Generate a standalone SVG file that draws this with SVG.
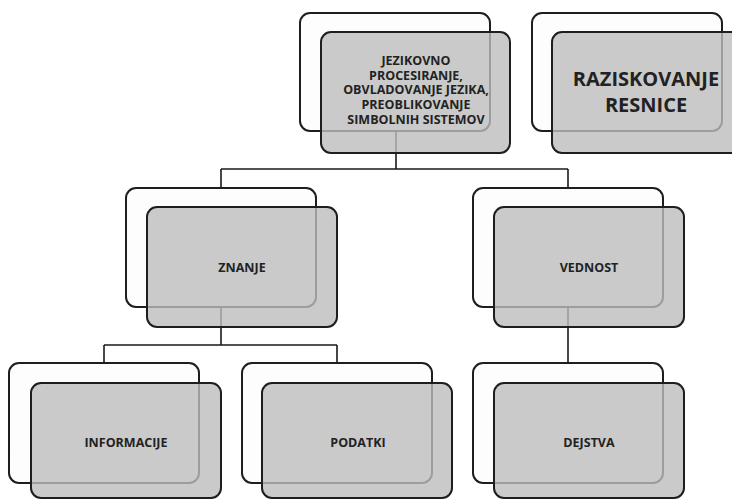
<svg xmlns="http://www.w3.org/2000/svg" width="732" height="500" viewBox="0 0 732 500">
  <style>
    .back { fill: #fdfdfe; stroke: #1e1e1e; stroke-width: 2; }
    .front { fill: #bdbdbd; fill-opacity: 0.8; stroke: #1e1e1e; stroke-width: 2; }
    .wire { fill: none; stroke: #1a1a1a; stroke-width: 1.6; }
    .lbl { font-family: "Open Sans", "Liberation Sans", sans-serif; font-weight: bold; font-size: 12.5px; fill: #222; text-anchor: middle; }
    .big { font-size: 20px; }
  </style>
  <rect width="732" height="500" fill="#ffffff"/>

  <!-- tree connectors (drawn beneath the cards) -->
  <g id="connectors">
    <path class="wire" d="M396 131 V169 M221 169 H568 M221 169 V188 M568 169 V188"/>
    <path class="wire" d="M221 307 V345 M104 345 H337 M104 345 V363 M337 345 V363"/>
    <path class="wire" d="M568 307 V363"/>
  </g>

  <g id="node-jezikovno">
    <rect class="back" x="300" y="13" width="190" height="118" rx="10"/>
    <rect class="front" x="321" y="32" width="189" height="121" rx="10"/>
    <text class="lbl" x="416" y="65">JEZIKOVNO</text>
    <text class="lbl" x="416" y="79.7">PROCESIRANJE,</text>
    <text class="lbl" x="416" y="94.4">OBVLADOVANJE JEZIKA,</text>
    <text class="lbl" x="416" y="109.1">PREOBLIKOVANJE</text>
    <text class="lbl" x="416" y="123.8">SIMBOLNIH SISTEMOV</text>
  </g>

  <g id="node-raziskovanje">
    <rect class="back" x="532" y="13" width="190" height="118" rx="10"/>
    <rect class="front" x="552" y="32" width="190" height="121" rx="10"/>
    <text class="lbl big" x="646" y="86">RAZISKOVANJE</text>
    <text class="lbl big" x="646" y="112">RESNICE</text>
  </g>

  <g id="node-znanje">
    <rect class="back" x="126" y="188" width="190" height="119" rx="10"/>
    <rect class="front" x="147" y="207" width="190" height="120" rx="10"/>
    <text class="lbl" x="242" y="272">ZNANJE</text>
  </g>

  <g id="node-vednost">
    <rect class="back" x="473" y="188" width="190" height="119" rx="10"/>
    <rect class="front" x="494" y="207" width="190" height="120" rx="10"/>
    <text class="lbl" x="589" y="272">VEDNOST</text>
  </g>

  <g id="node-informacije">
    <rect class="back" x="9" y="363" width="190" height="120" rx="10"/>
    <rect class="front" x="31" y="383" width="190" height="115" rx="10"/>
    <text class="lbl" x="126" y="447">INFORMACIJE</text>
  </g>

  <g id="node-podatki">
    <rect class="back" x="242" y="363" width="190" height="120" rx="10"/>
    <rect class="front" x="262" y="383" width="190" height="115" rx="10"/>
    <text class="lbl" x="358" y="447">PODATKI</text>
  </g>

  <g id="node-dejstva">
    <rect class="back" x="473" y="363" width="190" height="120" rx="10"/>
    <rect class="front" x="494" y="383" width="190" height="115" rx="10"/>
    <text class="lbl" x="589" y="447">DEJSTVA</text>
  </g>
</svg>
